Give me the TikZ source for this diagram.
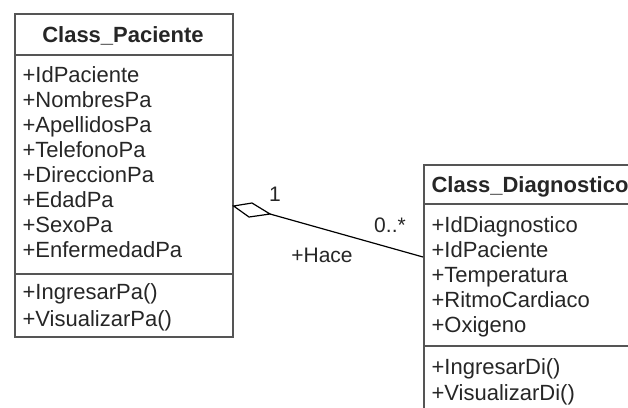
\documentclass[tikz,border=0pt]{standalone}
\usepackage{fontspec}
\setmainfont{Liberation Sans}
\usepackage{tikz}
\usetikzlibrary{positioning,calc}
\usetikzlibrary{shapes.geometric}
\definecolor{linegray}{HTML}{555555}
\definecolor{textgray}{HTML}{262626}
\tikzset{
  classbox/.style={draw=linegray,line width=1.6pt,rectangle,anchor=north west,inner sep=0pt},
  classname/.style={font=\fontsize{22}{26}\selectfont\bfseries,text=textgray,anchor=base},
  member/.style={font=\fontsize{22}{26}\selectfont,text=textgray,anchor=base west,inner sep=0pt},
  assoclabel/.style={font=\fontsize{21}{25}\selectfont,text=textgray,anchor=base},
}
\begin{document}
\begin{tikzpicture}[x=1pt,y=-1pt,line width=1.2pt]
 \useasboundingbox (0,0) rectangle (628,407);
 \clip (0,0) rectangle (628,407);

 % Class_Paciente
 \node[classbox,minimum width=218pt,minimum height=323pt] (paciente) at (14,13) {};
 \node[classname] (pacname) at (123,42) {Class\_Paciente};
 \draw[linegray,line width=1.6pt] ($(paciente.north west)+(0,42)$) -- ($(paciente.north east)+(0,42)$);
 \draw[linegray,line width=1.6pt] ($(paciente.north west)+(0,261)$) -- ($(paciente.north east)+(0,261)$);
 \foreach \txt [count=\i] in {IdPaciente,NombresPa,ApellidosPa,TelefonoPa,DireccionPa,EdadPa,SexoPa,EnfermedadPa}
   \node[member] (pacatt\i) at (22,57+25*\i) {+\txt};
 \node[member] (pacop1) at (22,299) {+IngresarPa()};
 \node[member] (pacop2) at (22,326) {+VisualizarPa()};

 % Class_Diagnostico
 \node[classbox,minimum width=240pt,minimum height=260pt] (diagnostico) at (423,164) {};
 \node[member,font=\fontsize{22}{26}\selectfont\bfseries] (diagname) at (431,192) {Class\_Diagnostico};
 \draw[linegray,line width=1.6pt] ($(diagnostico.north west)+(0,40)$) -- ($(diagnostico.north east)+(0,40)$);
 \draw[linegray,line width=1.6pt] ($(diagnostico.north west)+(0,182)$) -- ($(diagnostico.north east)+(0,182)$);
 \foreach \txt [count=\i] in {IdDiagnostico,IdPaciente,Temperatura,RitmoCardiaco,Oxigeno}
   \node[member] (diagatt\i) at (431,207+25*\i) {+\txt};
 \node[member] (diagop1) at (431,374) {+IngresarDi()};
 \node[member] (diagop2) at (431,400) {+VisualizarDi()};

 % aggregation
 \coordinate (aggA) at ($(paciente.north east)+(0,193)$);
 \coordinate (aggTip) at (270,214);
 \coordinate (aggB) at ($(diagnostico.north west)+(0,93)$);
 \draw[black] (aggA) -- (252,203) -- (aggTip) -- (249,217) -- cycle;
 \draw[black] (aggTip) -- (aggB);
 \node[assoclabel] (multA) at (275,201) {1};
 \node[assoclabel] (multB) at (390,232) {0..*};
 \node[assoclabel] (hace) at (322,262) {+Hace};
\end{tikzpicture}
\end{document}
